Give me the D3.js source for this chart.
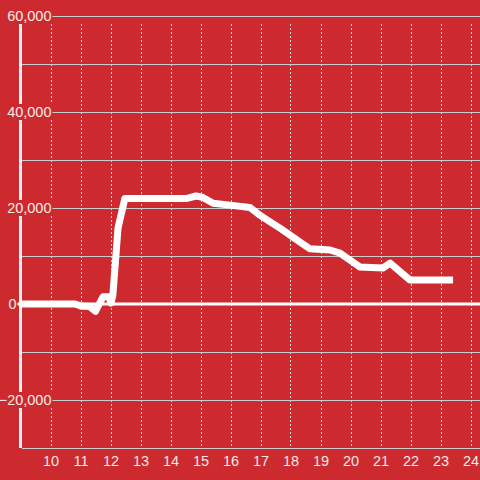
<!DOCTYPE html>
<html><head><meta charset="utf-8">
<script src="https://cdn.jsdelivr.net/npm/d3@7"></script>
<style>html,body{margin:0;padding:0;background:#cc2a2e;}svg{display:block;}</style>
</head><body>
<script>
const xValues = [9.0, 10.82, 11.0, 11.3, 11.5, 11.75, 11.95, 12.02, 12.08, 12.25, 12.48, 14.55, 14.85, 15.08, 15.42, 15.98, 16.65, 16.98, 17.32, 17.65, 18.32, 18.65, 19.32, 19.65, 20.32, 21.08, 21.32, 21.98, 23.42];
const yValues = [0, 0, -400, -500, -1500, 1500, 1500, 200, 1900, 15800, 22000, 22000, 22500, 22200, 21000, 20600, 20100, 18500, 17100, 15800, 12900, 11500, 11250, 10600, 7700, 7500, 8500, 5000, 5000];
const xTicks = [10, 11, 12, 13, 14, 15, 16, 17, 18, 19, 20, 21, 22, 23, 24];
const yGrid = [60000, 50000, 40000, 30000, 20000, 10000, -10000, -20000, -30000];
const yLabels = [60000, 40000, 20000, 0, -20000];

const W = 480, H = 480;
const svg = d3.select("body").append("svg").attr("width", W).attr("height", H);
svg.append("rect").attr("width", W).attr("height", H).attr("fill", "#cc2a2e");

const x = d3.scaleLinear().domain([9, 9 + (480 - 20.5) / 30]).range([20.5, 480]);
const y = d3.scaleLinear().domain([-30000, 60000]).range([448, 16]);
const fmt = d3.format(",");
const font = "'Liberation Sans', Arial, sans-serif";

// vertical dashed grid
svg.append("g").selectAll("line").data(xTicks).join("line")
  .attr("x1", d => Math.round(x(d)) + 0.5).attr("x2", d => Math.round(x(d)) + 0.5)
  .attr("y1", 24).attr("y2", 446)
  .attr("stroke", "#d8d8d8").attr("stroke-width", 1).attr("stroke-dasharray", "2,2");

// horizontal grid
svg.append("g").selectAll("line").data(yGrid).join("line")
  .attr("x1", 22).attr("x2", W)
  .attr("y1", d => Math.round(y(d)) + 0.5).attr("y2", d => Math.round(y(d)) + 0.5)
  .attr("stroke", "#cccccc").attr("stroke-width", 1);

// y axis line
svg.append("line").attr("x1", 20.5).attr("x2", 20.5).attr("y1", 16).attr("y2", 448)
  .attr("stroke", "#f2f2f2").attr("stroke-width", 3);

// zero line
svg.append("line").attr("x1", 17).attr("x2", W).attr("y1", y(0)).attr("y2", y(0))
  .attr("stroke", "#ffffff").attr("stroke-width", 3);

// y labels with background
const yl = svg.append("g").selectAll("g").data(yLabels).join("g");
yl.each(function(d) {
  const g = d3.select(this);
  const right = d === 0 ? 16.5 : 51.5;
  const t = g.append("text")
    .attr("x", right).attr("y", y(d)).attr("dy", "0.36em")
    .attr("text-anchor", "end").attr("font-family", font).attr("font-size", 14.5)
    .attr("fill", "#f3eaea").text(fmt(d));
  const bb = t.node().getBBox();
  g.insert("rect", "text").attr("x", bb.x - 1).attr("y", y(d) - 8).attr("width", bb.width + 2).attr("height", 16)
    .attr("fill", "#cc2a2e");
});

// x labels
svg.append("g").selectAll("text").data(xTicks).join("text")
  .attr("x", d => x(d) + 0.5).attr("y", 466)
  .attr("text-anchor", "middle").attr("font-family", font).attr("font-size", 14.5)
  .attr("fill", "#f3eaea").text(d => d);

// data line
const data = xValues.map((v, i) => [v, yValues[i]]);
svg.append("path").datum(data)
  .attr("d", d3.line().x(d => x(d[0])).y(d => y(d[1])))
  .attr("fill", "none").attr("stroke", "#ffffff").attr("stroke-width", 7)
  .attr("stroke-linejoin", "round").attr("stroke-linecap", "butt");
</script>
</body></html>
